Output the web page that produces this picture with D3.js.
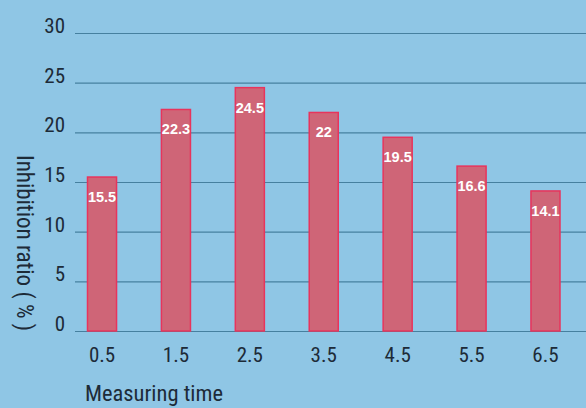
<!DOCTYPE html>
<html>
<head>
<meta charset="utf-8">
<script src="https://cdn.jsdelivr.net/npm/d3@7"></script>
<style>
  html, body { margin: 0; padding: 0; background: #8fc6e5; }
  svg { display: block; }
  .tick-y, .tick-x, .title { font-family: "Liberation Sans Narrow", "Arial Narrow", "Roboto Condensed", sans-serif; fill: #1d2b38; }
  .val { font-family: "Liberation Sans Narrow", "Arial Narrow", sans-serif; font-weight: bold; fill: #fff; }
</style>
</head>
<body>
<div id="chart"></div>
<script>
// Variables
var width = 586;
var height = 408;

// data
var times = ['0.5', '1.5', '2.5', '3.5', '4.5', '5.5', '6.5'];
var ratios = [15.5, 22.3, 24.5, 22, 19.5, 16.6, 14.1];
var yTicks = [0, 5, 10, 15, 20, 25, 30];

var svg = d3.select('#chart').append('svg')
    .attr('width', width)
    .attr('height', height);

var x = d3.scaleBand()
    .domain(times)
    .range([87.5, 560])
    .paddingInner(0.607)
    .paddingOuter(0);

var y = d3.scaleLinear()
    .domain([0, 30])
    .range([331, 33]);

// gridlines, the 0 line doubles as the axis
svg.selectAll('line.grid')
    .data(yTicks)
    .enter().append('line')
    .attr('class', 'grid')
    .attr('x1', 75)
    .attr('x2', width)
    .attr('y1', function(d) { return y(d) + 0.5; })
    .attr('y2', function(d) { return y(d) + 0.5; })
    .style('stroke', '#46809f')
    .style('stroke-width', 1.2);

svg.selectAll('text.tick-y')
    .data(yTicks)
    .enter().append('text')
    .attr('class', 'tick-y')
    .attr('x', 65)
    .attr('y', function(d) { return y(d); })
    .attr('text-anchor', 'end')
    .style('font-size', '21px')
    .text(function(d) { return d; });

// bars
svg.selectAll('rect.bar')
    .data(ratios)
    .enter().append('rect')
    .attr('class', 'bar')
    .attr('x', function(d, i) { return x(times[i]); })
    .attr('y', function(d) { return y(d); })
    .attr('width', x.bandwidth())
    .attr('height', function(d) { return y(0) - y(d); })
    .style('fill', '#cf6577')
    .style('stroke', '#e8345c')
    .style('stroke-width', 1.5);

svg.selectAll('text.val')
    .data(ratios)
    .enter().append('text')
    .attr('class', 'val')
    .attr('x', function(d, i) { return x(times[i]) + x.bandwidth() / 2; })
    .attr('y', function(d) { return y(d) + 25; })
    .attr('text-anchor', 'middle')
    .style('font-size', '14.5px')
    .text(function(d) { return d; });

svg.selectAll('text.tick-x')
    .data(times)
    .enter().append('text')
    .attr('class', 'tick-x')
    .attr('x', function(d) { return x(d) + x.bandwidth() / 2; })
    .attr('y', 362)
    .attr('text-anchor', 'middle')
    .style('font-size', '21px')
    .text(function(d) { return d; });

// axis titles
svg.append('text')
    .attr('class', 'title')
    .attr('x', 85)
    .attr('y', 401)
    .style('font-size', '22.5px')
    .text('Measuring time');

svg.append('text')
    .attr('class', 'title')
    .attr('transform', 'translate(17,243)rotate(90)')
    .attr('text-anchor', 'middle')
    .style('font-size', '23px')
    .text('Inhibition ratio ( % )');
</script>
</body>
</html>
